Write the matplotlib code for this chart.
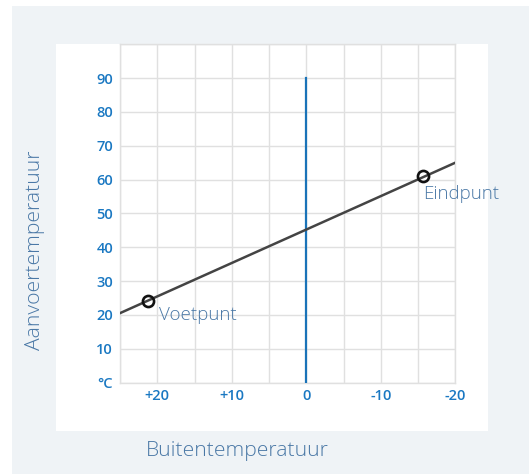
import matplotlib
matplotlib.use('Agg')
import matplotlib.pyplot as plt
from matplotlib.patches import Rectangle

# stooklijn: buitentemperatuur -> aanvoertemperatuur
line_x = [25, -20]
line_y = [20.5, 65]

points_x = [21.2, -15.6]
points_y = [24.1, 61.0]
points_labels = ['Voetpunt', 'Eindpunt']
label_offsets = [(8, -10), (0, -13)]  # points, relative to marker

zero_x = [0, 0]
zero_y = [0, 90]

xticks = [20, 10, 0, -10, -20]
xticklabels = ['+20', '+10', '0', '-10', '-20']
yticks = [0, 10, 20, 30, 40, 50, 60, 70, 80, 90]
yticklabels = ['°C', '10', '20', '30', '40', '50', '60', '70', '80', '90']

tick_blue = '#1a78c2'
text_blue = '#4a78a6'
grid_grey = '#e0e0e0'

plt.rcParams['font.family'] = ['Open Sans', 'DejaVu Sans']

fig = plt.figure(figsize=(5.29, 4.74), dpi=100)
fig.patch.set_facecolor('white')
# grey panel and white card behind the chart
fig.patches.append(Rectangle((12 / 529, 0), 1, 468 / 474, transform=fig.transFigure,
                             facecolor='#eff3f6', edgecolor='none', zorder=-2))
fig.patches.append(Rectangle((56 / 529, 43.3 / 474), 432 / 529, 386.7 / 474,
                             transform=fig.transFigure, facecolor='white',
                             edgecolor='none', zorder=-1))

ax = fig.add_axes([120 / 529, 91.5 / 474, 335.5 / 529, 338.3 / 474])
ax.set_facecolor('none')
ax.set_xlim(25, -20)
ax.set_ylim(0, 100)

ax.grid(True, color=grid_grey, linewidth=1.0)
ax.set_axisbelow(True)
for s in ax.spines.values():
    s.set_color(grid_grey)
    s.set_linewidth(1.0)

# tick labels only at selected positions
ax.set_xticks(range(25, -21, -5))
ax.set_xticklabels(['' if v not in xticks else xticklabels[xticks.index(v)]
                    for v in range(25, -21, -5)])
ax.set_yticks(range(0, 101, 10))
ax.set_yticklabels(['' if v not in yticks else yticklabels[yticks.index(v)]
                    for v in range(0, 101, 10)])
ax.tick_params(length=0, colors=tick_blue, labelsize=10.5, pad=5)
for lab in ax.get_xticklabels() + ax.get_yticklabels():
    lab.set_fontweight('semibold')

ax.plot(zero_x, zero_y, color='#1a73b8', linewidth=1.6, zorder=3)
ax.plot(line_x, line_y, color='#444444', linewidth=1.8, zorder=4)
ax.plot(points_x, points_y, 'o', markersize=8, markerfacecolor='none',
        markeredgecolor='#111111', markeredgewidth=1.9, zorder=5)
for x, y, lab, off in zip(points_x, points_y, points_labels, label_offsets):
    ax.annotate(lab, (x, y), xytext=off, textcoords='offset points',
                ha='left', va='center', fontsize=13.5, color=text_blue,
                fontweight='light')

fig.text(35 / 529, 1 - 250 / 474, 'Aanvoertemperatuur', rotation=90,
         ha='center', va='center', fontsize=15.2, color=text_blue, fontweight='light')
fig.text(237.5 / 529, 1 - 451 / 474, 'Buitentemperatuur',
         ha='center', va='center', fontsize=15.2, color=text_blue, fontweight='light')

fig.savefig('out.png', dpi=100)
